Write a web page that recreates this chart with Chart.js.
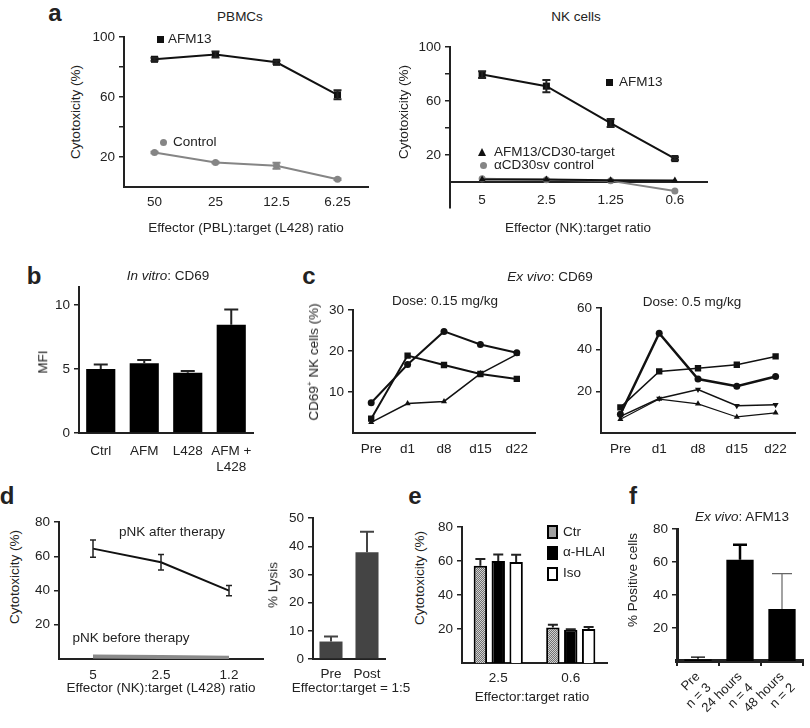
<!DOCTYPE html>
<html>
<head>
<meta charset="utf-8">
<script src="https://cdn.jsdelivr.net/npm/chart.js@4.4.0/dist/chart.umd.min.js"></script>
<style>
  html, body { margin: 0; padding: 0; background: #fff; }
  #stage { position: relative; width: 810px; height: 728px; overflow: hidden;
           font-family: "Liberation Sans", Arial, sans-serif; color: #222; }
  #stage canvas { position: absolute; }
  .t { position: absolute; white-space: nowrap; line-height: 1; font-size: 13.5px; }
  .m { position: absolute; }
</style>
</head>
<body>
<div id="stage"></div>
<script>
// a: PBMCs
const pbmcRatios = ['50', '25', '12.5', '6.25'];
const pbmcAFM13 = [85.2, 88.4, 83.2, 61.5];
const pbmcAFM13Err = [1, 2, 1, 3];
const pbmcControl = [23, 16.3, 14.2, 5.2];
const pbmcControlErr = [0.5, 0.5, 2, 0.5];

// a: NK cells
const nkRatios = ['5', '2.5', '1.25', '0.6'];
const nkAFM13 = [79.7, 71.1, 43.8, 17.5];
const nkAFM13Err = [2.5, 4.5, 3, 1];
const nkCD30Target = [2, 2, 1.5, 1.2];
const nkCD30svControl = [2.5, 1.8, 1, -6.5];

// b: in vitro CD69
const cd69Groups = ['Ctrl', 'AFM', 'L428', ['AFM +', 'L428']];
const cd69MFI = [5.0, 5.45, 4.7, 8.45];
const cd69MFIErr = [0.35, 0.25, 0.15, 1.2];

// c: ex vivo CD69, one array per patient
const visits = ['Pre', 'd1', 'd8', 'd15', 'd22'];
const lowDoseCircle = [7.4, 16.7, 24.8, 21.6, 19.6];
const lowDoseSquare = [3.5, 18.9, 16.6, 14.4, 13.2];
const lowDoseTriangle = [2.6, 7.2, 7.7, 14.5, 19.2];
const highDoseCircle = [9, 47.9, 25.9, 22.5, 27.1];
const highDoseSquare = [12.3, 29.6, 31.1, 32.8, 36.8];
const highDoseDown = [8, 16.6, 20.9, 13.1, 13.6];
const highDoseUp = [6.6, 16.3, 14, 7.7, 9.7];

// d: patient NK cytotoxicity
const pnkRatios = ['5', '2.5', '1.2'];
const pnkAfter = [64.5, 56.5, 40];
const pnkAfterErr = [5, 4.5, 3];
const pnkBefore = [1.5, 1.2, 0.8];
const lysisGroups = ['Pre', 'Post'];
const lysis = [6.2, 37.9];
const lysisErr = [1.8, 7.3];

// e: blocking
const blockRatios = ['2.5', '0.6'];
const blockCtr = [57.2, 20.9];
const blockCtrErr = [4, 1.6];
const blockHLAI = [60, 19.6];
const blockHLAIErr = [3.8, 0.3];
const blockIso = [59.5, 20];
const blockIsoErr = [4.2, 1.2];

// f: ex vivo AFM13
const afmGroups = [['Pre', 'n = 3'], ['24 hours', 'n = 4'], ['48 hours', 'n = 2']];
const afmPositive = [1, 61.4, 31.6];
const afmPositiveErr = [1.3, 9.1, 21.4];

const stage = document.getElementById('stage');
const INK = '#222';
const GREY = '#858585';
Chart.defaults.font.family = '"Liberation Sans", Arial, sans-serif';
Chart.defaults.font.size = 13.5;
Chart.defaults.color = INK;
Chart.defaults.animation = false;

const pick = (v, j) => Array.isArray(v) ? v[j] : v;

// error bars drawn from dataset.errors
const errorBars = {
  id: 'errorBars',
  afterDatasetsDraw(chart) {
    const ctx = chart.ctx;
    chart.data.datasets.forEach((ds, i) => {
      if (!ds.errors) return;
      const meta = chart.getDatasetMeta(i);
      const ys = chart.scales[meta.yAxisID];
      meta.data.forEach((el, j) => {
        const e = ds.errors[j];
        if (!e) return;
        const v = ds.data[j];
        const x = el.x;
        const top = ys.getPixelForValue(v + e);
        const bot = ds.errorUpOnly ? ys.getPixelForValue(v) : ys.getPixelForValue(v - e);
        const cap = pick(ds.errorCap || 4, j);
        ctx.save();
        ctx.strokeStyle = pick(ds.errorColor || INK, j);
        ctx.lineWidth = pick(ds.errorWidth || 1.5, j);
        ctx.beginPath();
        ctx.moveTo(x, top); ctx.lineTo(x, bot);
        ctx.moveTo(x - cap, top); ctx.lineTo(x + cap, top);
        if (!ds.errorUpOnly) { ctx.moveTo(x - cap, bot); ctx.lineTo(x + cap, bot); }
        ctx.stroke();
        ctx.restore();
      });
    });
  }
};

function yAxis(min, max, tickVals, labelled, bw) {
  return {
    min, max,
    afterBuildTicks: s => { s.ticks = tickVals.map(v => ({ value: v })); },
    ticks: { padding: 4, callback: v => (!labelled || labelled.includes(v)) ? v : '' },
    grid: { drawOnChartArea: false, tickLength: 5, color: INK, lineWidth: 1.5 },
    border: { color: INK, width: bw || 2 }
  };
}

function xAxis(pad, extra) {
  return Object.assign({
    offset: true,
    grid: { display: false, drawTicks: false },
    border: { color: INK, width: 2 },
    ticks: { padding: pad, maxRotation: 0, minRotation: 0, autoSkip: false }
  }, extra || {});
}

function makeChart(box, area, type, data, scales, floatX) {
  const c = document.createElement('canvas');
  c.width = box.w; c.height = box.h;
  c.style.left = box.x + 'px'; c.style.top = box.y + 'px';
  stage.appendChild(c);
  scales.y.afterFit = s => { s.width = area.l - box.x; };
  if (!floatX) scales.x.afterFit = s => { s.height = box.y + box.h - area.b; };
  return new Chart(c, {
    type, data, plugins: [errorBars],
    options: {
      responsive: false,
      animation: false,
      layout: { padding: { left: 0, top: area.t - box.y, right: box.x + box.w - area.r,
                           bottom: floatX ? box.y + box.h - area.b : 0 } },
      plugins: { legend: { display: false }, tooltip: { enabled: false } },
      scales
    }
  });
}

function text(html, x, y, o = {}) {
  const d = document.createElement('div');
  d.className = 't';
  d.innerHTML = html;
  d.style.left = x + 'px';
  d.style.top = y + 'px';
  if (o.size) d.style.fontSize = o.size + 'px';
  if (o.bold) d.style.fontWeight = 'bold';
  const tx = o.left ? '0' : '-50%';
  d.style.transform = `translate(${tx},-50%)` + (o.rotate ? ' rotate(-90deg)' : '');
  stage.appendChild(d);
}

function marker(shape, x, y, color) {
  const d = document.createElement('div');
  d.className = 'm';
  if (shape === 'triangle') {
    d.style.cssText = `left:${x - 4}px;top:${y - 4}px;width:0;height:0;border-left:4px solid transparent;border-right:4px solid transparent;border-bottom:8px solid ${color};`;
  } else {
    d.style.cssText = `left:${x - 3.5}px;top:${y - 3.5}px;width:7px;height:7px;background:${color};` +
      (shape === 'circle' ? 'border-radius:50%;' : '');
  }
  stage.appendChild(d);
}

function swatch(x, y, bg, border) {
  const d = document.createElement('div');
  d.className = 'm';
  d.style.cssText = `left:${x}px;top:${y}px;width:7px;height:10px;background:${bg};border:2px solid ${border};`;
  stage.appendChild(d);
}

// stipple fill for the Ctr bars in panel e
const pc = document.createElement('canvas');
pc.width = 2; pc.height = 2;
const pctx = pc.getContext('2d');
pctx.fillStyle = '#d0d0d0'; pctx.fillRect(0, 0, 2, 2);
pctx.fillStyle = '#707070'; pctx.fillRect(0, 0, 1, 1); pctx.fillRect(1, 1, 1, 1);
const stipple = pctx.createPattern(pc, 'repeat');

// ---- a: PBMCs
makeChart({ x: 84, y: 25, w: 300, h: 200 }, { l: 124, t: 33, r: 368, b: 187 }, 'line', {
  labels: pbmcRatios,
  datasets: [
    { data: pbmcAFM13, borderColor: '#111', borderWidth: 2, pointStyle: 'rect', pointRadius: 5,
      pointBackgroundColor: '#111', pointBorderWidth: 0, errors: pbmcAFM13Err, errorCap: 4, errorWidth: 2 },
    { data: pbmcControl, borderColor: GREY, borderWidth: 2, pointStyle: 'circle', pointRadius: 3.5,
      pointBackgroundColor: GREY, pointBorderWidth: 0, errors: pbmcControlErr, errorColor: GREY, errorCap: 4, errorWidth: 2 }
  ]
}, { x: xAxis(7), y: yAxis(0, 100, [20, 40, 60, 80, 100], [20, 60, 100]) });

// ---- a: NK cells
makeChart({ x: 410, y: 35, w: 310, h: 185 }, { l: 450, t: 43, r: 707, b: 212 }, 'line', {
  labels: nkRatios,
  datasets: [
    { data: nkAFM13, borderColor: '#111', borderWidth: 2, pointStyle: 'rect', pointRadius: 5,
      pointBackgroundColor: '#111', pointBorderWidth: 0, errors: nkAFM13Err, errorCap: 4, errorWidth: 2 },
    { data: nkCD30Target, borderColor: '#111', borderWidth: 2, pointStyle: 'triangle', pointRadius: 4,
      pointBackgroundColor: '#111', pointBorderWidth: 0 },
    { data: nkCD30svControl, borderColor: GREY, borderWidth: 2, pointStyle: 'circle', pointRadius: 3.5,
      pointBackgroundColor: GREY, pointBorderWidth: 0 }
  ]
}, { x: xAxis(10, { position: { y: 0 } }), y: yAxis(-19, 100, [20, 40, 60, 80, 100], [20, 60, 100]) }, true);

// ---- b
makeChart({ x: 45, y: 275, w: 220, h: 200 }, { l: 79, t: 282, r: 253, b: 433 }, 'bar', {
  labels: cd69Groups,
  datasets: [
    { data: cd69MFI, backgroundColor: '#000', barPercentage: 0.67, categoryPercentage: 1,
      errors: cd69MFIErr, errorUpOnly: true, errorCap: 7, errorWidth: 2 }
  ]
}, { x: xAxis(10), y: yAxis(0, 11.4, [0, 5, 10]) });

// ---- c: 0.15 mg/kg
const pt = (data, style, width, rot) => ({
  data, borderColor: '#111', borderWidth: width, pointStyle: style, pointRotation: rot || 0,
  pointRadius: style === 'rect' ? 4.5 : 3.5, pointBackgroundColor: '#111', pointBorderWidth: 0
});
makeChart({ x: 318, y: 298, w: 225, h: 172 }, { l: 353, t: 305, r: 535, b: 433 }, 'line', {
  labels: visits,
  datasets: [pt(lowDoseCircle, 'circle', 2), pt(lowDoseSquare, 'rect', 2), pt(lowDoseTriangle, 'triangle', 1.5)]
}, { x: xAxis(8), y: yAxis(0, 30, [10, 20, 30]) });

// ---- c: 0.5 mg/kg
makeChart({ x: 566, y: 296, w: 240, h: 174 }, { l: 601, t: 303, r: 795, b: 433 }, 'line', {
  labels: visits,
  datasets: [pt(highDoseCircle, 'circle', 2.5), pt(highDoseSquare, 'rect', 1.5),
             pt(highDoseDown, 'triangle', 1.5, 180), pt(highDoseUp, 'triangle', 1.2)]
}, { x: xAxis(8), y: yAxis(0, 60, [20, 40, 60]) });

// ---- d: cytotoxicity
makeChart({ x: 24, y: 510, w: 250, h: 185 }, { l: 59, t: 517, r: 263, b: 659 }, 'line', {
  labels: pnkRatios,
  datasets: [
    { data: pnkAfter, borderColor: '#111', borderWidth: 2, pointRadius: 0,
      errors: pnkAfterErr, errorCap: 3, errorWidth: 1.5 },
    { data: pnkBefore, borderColor: '#8a8a8a', borderWidth: 4, pointRadius: 0 }
  ]
}, { x: xAxis(8), y: yAxis(0, 80, [20, 40, 60, 80]) });

// ---- d: % lysis
makeChart({ x: 283, y: 506, w: 110, h: 185 }, { l: 313, t: 513, r: 385, b: 659 }, 'bar', {
  labels: lysisGroups,
  datasets: [
    { data: lysis, backgroundColor: '#444', barPercentage: 0.64, categoryPercentage: 1,
      errors: lysisErr, errorUpOnly: true, errorCap: 7, errorWidth: 2, errorColor: '#444' }
  ]
}, { x: xAxis(7), y: yAxis(0, 50, [0, 10, 20, 30, 40, 50]) });

// ---- e
const eBar = (data, bg, errs) => ({
  data, backgroundColor: bg, borderColor: '#000', borderWidth: 2,
  barPercentage: 0.75, categoryPercentage: 0.74,
  errors: errs, errorUpOnly: true, errorCap: 5, errorWidth: 2
});
makeChart({ x: 430, y: 515, w: 185, h: 175 }, { l: 462, t: 522, r: 607, b: 663 }, 'bar', {
  labels: blockRatios,
  datasets: [eBar(blockCtr, stipple, blockCtrErr), eBar(blockHLAI, '#000', blockHLAIErr), eBar(blockIso, '#fff', blockIsoErr)]
}, { x: xAxis(7), y: yAxis(0, 80, [20, 40, 60, 80]) });

// ---- f
makeChart({ x: 645, y: 517, w: 165, h: 211 }, { l: 677, t: 524, r: 803, b: 661 }, 'bar', {
  labels: afmGroups,
  datasets: [
    { data: afmPositive, backgroundColor: '#000', barPercentage: 0.65, categoryPercentage: 1,
      errors: afmPositiveErr, errorUpOnly: true, errorCap: [7, 7, 10],
      errorWidth: [1.2, 2.5, 1.2], errorColor: ['#000', '#000', '#666'] }
  ]
}, { x: xAxis(3, { border: { color: INK, width: 4 },
                   grid: { display: true, drawOnChartArea: false, drawTicks: true, tickLength: 5, color: INK, lineWidth: 2 },
                   ticks: { padding: 3, maxRotation: 45, minRotation: 45, autoSkip: false, font: { size: 13 } } }),
     y: yAxis(0, 80, [20, 40, 60, 80], null, 3) });

// ---- text
const L = { size: 24, bold: true };
text('a', 55, 13, L); text('b', 34, 276, L); text('c', 309, 276, L);
text('d', 7, 496, L); text('e', 415, 496, L); text('f', 633, 496, L);

text('PBMCs', 240, 17);
text('NK cells', 576, 17);
text('Cytotoxicity (%)', 76, 112, { rotate: true });
text('Cytotoxicity (%)', 404, 112, { rotate: true });
text('Effector (PBL):target (L428) ratio', 246, 228);
text('Effector (NK):target ratio', 578, 228);
marker('rect', 160, 39, '#111'); text('AFM13', 168, 39, { left: true });
marker('circle', 163, 142, GREY); text('Control', 173, 142, { left: true });
marker('rect', 609, 82, '#111'); text('AFM13', 619, 82, { left: true });
marker('triangle', 482, 152, '#111'); text('AFM13/CD30-target', 494, 152, { left: true });
marker('circle', 483, 165, GREY); text('\u03b1CD30sv control', 494, 165, { left: true });

text('<i>In vitro</i>: CD69', 168, 276);
text('MFI', 43, 362, { rotate: true });

text('<i>Ex vivo</i>: CD69', 550, 277);
text('Dose: 0.15 mg/kg', 445, 301);
text('Dose: 0.5 mg/kg', 692, 302);
text('CD69<sup style="font-size:8px">+</sup> NK cells (%)', 313, 362, { rotate: true });

text('Cytotoxicity (%)', 15, 577, { rotate: true });
text('pNK after therapy', 172, 532);
text('pNK before therapy', 131, 638);
text('Effector (NK):target (L428) ratio', 161, 688);
text('% Lysis', 273, 585, { rotate: true });
text('Effector:target = 1:5', 351, 688);

text('Cytotoxicity (%)', 420, 578, { rotate: true });
text('Effector:target ratio', 532, 697);
swatch(547, 525, '#a0a0a0', '#000'); text('Ctr', 563, 532, { left: true });
swatch(547, 546, '#000', '#000'); text('\u03b1-HLAI', 563, 552, { left: true });
swatch(547, 567, '#fff', '#000'); text('Iso', 563, 573, { left: true });

text('<i>Ex vivo</i>: AFM13', 742, 517);
text('% Positive cells', 633, 580, { rotate: true });
</script>
</body>
</html>
